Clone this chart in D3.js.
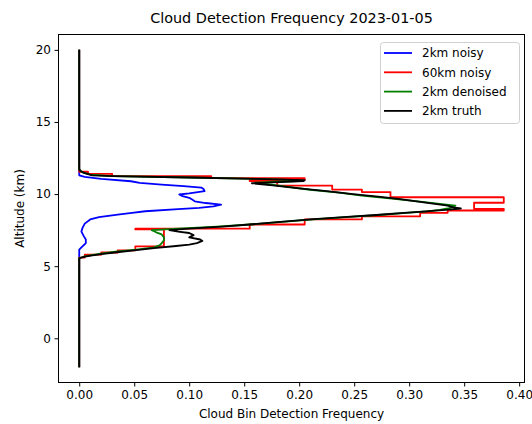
<!DOCTYPE html>
<html>
<head>
<meta charset="utf-8">
<script src="https://cdn.jsdelivr.net/npm/d3@7"></script>
<style>
  body { margin: 0; background: #fff; }
  svg { display: block; font-family: "DejaVu Sans", sans-serif; }
</style>
</head>
<body>
<svg id="chart" width="532" height="424"></svg>
<script>
// chart data
const xTicks = [0, 0.05, 0.1, 0.15, 0.2, 0.25, 0.3, 0.35, 0.4];
const yTicks = [0, 5, 10, 15, 20];

// 2km noisy
const blueAlt = [-2, 6.15, 6.3, 6.6, 6.85, 7.1, 7.4, 7.66, 7.95, 8.24, 8.4, 8.58, 8.7, 8.81, 8.95, 9.05, 9.15, 9.27, 9.38, 9.5, 9.6, 9.74, 9.85, 9.97, 10.05, 10.2, 10.35, 10.45, 10.55, 10.65, 10.78, 10.89, 11.05, 11.2, 11.3, 20];
const blueFreq = [0, 0, 0.002, 0.006, 0.006, 0.004, 0.002, 0.003, 0.005, 0.01, 0.018, 0.035, 0.048, 0.06, 0.09, 0.109, 0.122, 0.129, 0.115, 0.105, 0.103, 0.1, 0.094, 0.091, 0.1, 0.114, 0.113, 0.111, 0.095, 0.075, 0.055, 0.047, 0.02, 0.005, 0, 0];

// 60km noisy (piecewise constant in altitude)
const redAlt = [-2, 5.6, 5.8, 5.95, 6.1, 6.38, 7.55, 7.6, 7.89, 8.24, 8.46, 8.7, 8.86, 8.98, 9.4, 9.78, 10.14, 10.31, 10.59, 10.9, 10.97, 11.1, 11.25, 11.4, 11.55, 20];
const redFreq = [0, 0.005, 0.02, 0.035, 0.051, 0.077, 0.051, 0.155, 0.205, 0.257, 0.31, 0.335, 0.386, 0.359, 0.386, 0.283, 0.257, 0.23, 0.18, 0.155, 0.205, 0.12, 0.03, 0.008, 0, 0];

// 2km denoised
const greenAlt = [-2, 5.55, 5.7, 5.85, 6.0, 6.15, 6.3, 6.45, 6.6, 6.8, 7.0, 7.2, 7.35, 7.5, 7.6, 7.75, 7.89, 8.05, 8.24, 8.4, 8.55, 8.7, 8.8, 8.9, 9.0, 9.1, 9.2, 9.3, 9.5, 9.7, 9.9, 10.1, 10.3, 10.5, 10.7, 10.8, 10.9, 10.97, 11.05, 11.15, 11.25, 11.35, 11.5, 11.7, 20];
const greenFreq = [0, 0, 0.006, 0.018, 0.033, 0.052, 0.068, 0.073, 0.075, 0.077, 0.077, 0.075, 0.07, 0.066, 0.09, 0.125, 0.155, 0.182, 0.213, 0.243, 0.272, 0.298, 0.316, 0.328, 0.335, 0.34, 0.342, 0.33, 0.308, 0.282, 0.257, 0.236, 0.21, 0.19, 0.17, 0.16, 0.2, 0.2, 0.16, 0.1, 0.03, 0.01, 0.003, 0, 0];

// 2km truth
const blackAlt = [-2, 5.55, 5.65, 5.75, 5.85, 5.95, 6.1, 6.25, 6.4, 6.5, 6.6, 6.75, 6.85, 7.0, 7.15, 7.3, 7.4, 7.5, 7.6, 7.75, 7.89, 8.05, 8.24, 8.4, 8.55, 8.7, 8.8, 8.9, 9.0, 9.08, 9.2, 9.4, 9.67, 9.8, 10.0, 10.2, 10.4, 10.6, 10.75, 10.8, 10.9, 10.97, 11.05, 11.15, 11.25, 11.3, 11.45, 11.6, 11.75, 20];
const blackFreq = [0, 0, 0.004, 0.012, 0.022, 0.032, 0.05, 0.068, 0.088, 0.1, 0.107, 0.112, 0.11, 0.1, 0.104, 0.1, 0.09, 0.082, 0.1, 0.13, 0.155, 0.18, 0.21, 0.24, 0.27, 0.295, 0.315, 0.333, 0.347, 0.34, 0.335, 0.315, 0.29, 0.274, 0.249, 0.225, 0.2, 0.176, 0.157, 0.17, 0.204, 0.205, 0.16, 0.1, 0.03, 0.012, 0.005, 0.001, 0, 0];

const seriesNames = ["2km noisy", "60km noisy", "2km denoised", "2km truth"];
const seriesColors = ["#0000ff", "#ff0000", "#008000", "#000000"];

const W = 532, H = 424;
const margin = { left: 58, right: 7, top: 34, bottom: 41 };
const svg = d3.select("#chart");

const series = [
  { alt: blueAlt, freq: blueFreq, step: false },
  { alt: redAlt, freq: redFreq, step: true },
  { alt: greenAlt, freq: greenFreq, step: false },
  { alt: blackAlt, freq: blackFreq, step: false }
].map((s, i) => ({
  name: seriesNames[i],
  color: seriesColors[i],
  step: s.step,
  points: s.alt.map((a, j) => ({ a: a, f: s.freq[j] }))
}));

// matplotlib-style 5% padding
const allF = series.flatMap(s => s.points.map(p => p.f));
const allA = series.flatMap(s => s.points.map(p => p.a));
const fMin = d3.min(allF), fMax = d3.max(allF);
const aMin = d3.min(allA), aMax = d3.max(allA);
const fPad = (fMax - fMin) * 0.05, aPad = (aMax - aMin) * 0.05;

const x = d3.scaleLinear()
  .domain([fMin - fPad, fMax + fPad])
  .range([margin.left, W - margin.right]);
const y = d3.scaleLinear()
  .domain([aMin - aPad, aMax + aPad])
  .range([H - margin.bottom, margin.top]);

svg.append("clipPath").attr("id", "plotclip")
  .append("rect")
  .attr("x", margin.left).attr("y", margin.top)
  .attr("width", W - margin.left - margin.right)
  .attr("height", H - margin.top - margin.bottom);

// lines
const plot = svg.append("g").attr("clip-path", "url(#plotclip)");
series.forEach(s => {
  const line = d3.line()
    .x(d => x(d.f))
    .y(d => y(d.a))
    .curve(s.step ? d3.curveStepBefore : d3.curveLinear);
  plot.append("path")
    .datum(s.points)
    .attr("fill", "none")
    .attr("stroke", s.color)
    .attr("stroke-width", 1.8)
    .attr("stroke-linejoin", "round")
    .attr("d", line);
});

// axes
const xAxis = svg.append("g")
  .attr("transform", `translate(0,${H - margin.bottom})`)
  .call(d3.axisBottom(x).tickValues(xTicks).tickFormat(d3.format(".2f")).tickSizeInner(3.5).tickSizeOuter(0).tickPadding(3.5));
const yAxis = svg.append("g")
  .attr("transform", `translate(${margin.left},0)`)
  .call(d3.axisLeft(y).tickValues(yTicks).tickFormat(d3.format("d")).tickSizeInner(3.5).tickSizeOuter(0).tickPadding(3.5));

[xAxis, yAxis].forEach(ax => {
  ax.select(".domain").remove();
  ax.selectAll(".tick line").attr("stroke", "#000").attr("stroke-width", 1);
  ax.selectAll(".tick text")
    .attr("fill", "#000")
    .style("font-family", "DejaVu Sans")
    .style("font-size", "12px");
});

// frame
svg.append("rect")
  .attr("x", margin.left + 0.5).attr("y", margin.top + 0.5)
  .attr("width", W - margin.left - margin.right - 1)
  .attr("height", H - margin.top - margin.bottom - 1)
  .attr("fill", "none")
  .attr("stroke", "#000")
  .attr("stroke-width", 1);

// title and labels
svg.append("text")
  .attr("x", (margin.left + W - margin.right) / 2)
  .attr("y", 23)
  .attr("text-anchor", "middle")
  .style("font-size", "14.4px")
  .text("Cloud Detection Frequency 2023-01-05");

svg.append("text")
  .attr("x", (margin.left + W - margin.right) / 2)
  .attr("y", 418)
  .attr("text-anchor", "middle")
  .style("font-size", "12px")
  .text("Cloud Bin Detection Frequency");

svg.append("text")
  .attr("transform", `translate(24,${(margin.top + H - margin.bottom) / 2}) rotate(-90)`)
  .attr("text-anchor", "middle")
  .style("font-size", "12px")
  .text("Altitude (km)");

// legend
const lg = svg.append("g").attr("transform", "translate(380,42)");
lg.append("rect")
  .attr("x", 0.5).attr("y", 0.5)
  .attr("width", 139).attr("height", 81)
  .attr("rx", 3)
  .attr("fill", "#fff").attr("fill-opacity", 0.8)
  .attr("stroke", "#d0d0d0");
series.forEach((s, i) => {
  const row = lg.append("g").attr("transform", `translate(0,${11 + i * 19.3})`);
  row.append("line")
    .attr("x1", 4).attr("x2", 32)
    .attr("stroke", s.color).attr("stroke-width", 1.8);
  row.append("text")
    .attr("x", 42).attr("y", 4.3)
    .style("font-size", "12px")
    .text(s.name);
});
</script>
</body>
</html>
